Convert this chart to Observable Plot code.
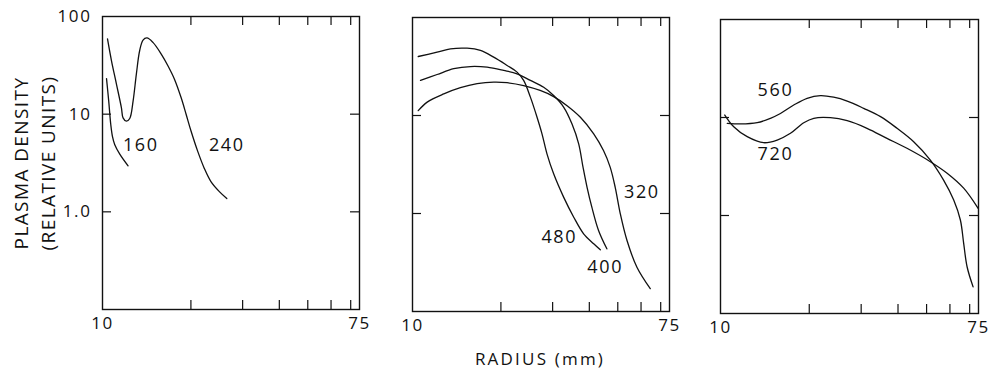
<!DOCTYPE html>
<html>
<head>
<meta charset="utf-8">
<script src="https://cdn.jsdelivr.net/npm/d3@7"></script>
<script src="https://cdn.jsdelivr.net/npm/@observablehq/plot@0.6"></script>
<style>
  html, body { margin: 0; padding: 0; background: #fff; }
  #wrap { position: relative; width: 993px; height: 372px; overflow: hidden; background: #fff;
          font-family: 'Open Sans', 'Liberation Sans', sans-serif; color: #111; }
  #wrap svg { position: absolute; top: 0; }
  #wrap svg text { letter-spacing: 1.6px; }
  .ytitle { position: absolute; white-space: nowrap; font-size: 19px; font-weight: 400; letter-spacing: 1.4px;
            transform: translate(-50%, -50%) rotate(-90deg); line-height: 19px; }
  .xtitle { position: absolute; white-space: nowrap; font-size: 17px; font-weight: 400; letter-spacing: 2.2px;
            transform: translate(-50%, 0); line-height: 17px; }
</style>
</head>
<body>
<div id="wrap"></div>
<script>
// ---- data (radius in mm, plasma density in relative units) ----
const r160 = [10.32, 10.50, 10.67, 10.81, 11.01, 11.45, 12.22];
const d160 = [23.1, 13.6, 7.83, 5.93, 4.87, 3.9, 2.96];

const r240 = [10.40, 10.73, 11.16, 11.6, 11.75, 12.06, 12.38, 12.71, 13.04, 13.38, 13.74, 14.17, 14.85, 15.85, 16.7, 17.58, 18.53, 19.27, 20.03, 21.1, 22.2, 23.4, 25.0, 26.5];
const d240 = [58.9, 35.2, 20.2, 11.6, 9.16, 8.47, 9.03, 13.6, 25.7, 44.6, 57.4, 60.3, 54.3, 41.2, 31.3, 22.8, 14.7, 9.93, 6.68, 4.16, 2.8, 2.04, 1.61, 1.37];

const r480 = [10.46, 12.13, 13.47, 15.35, 17.03, 18.9, 20.99, 22.7, 23.9, 25.2, 26.55, 27.6, 28.7, 30.24, 32.7, 35.4, 38.25, 41.4, 43.6];
const d480 = [40.0, 44.3, 47.9, 48.6, 46.1, 39.4, 32.4, 27.7, 22.8, 15.4, 9.6, 6.5, 4.06, 2.54, 1.47, 0.917, 0.621, 0.491, 0.426];

const r400 = [10.65, 12.13, 13.82, 15.75, 17.95, 20.44, 22.7, 25.2, 27.97, 30.24, 32.7, 34.9, 36.8, 38.07, 39.3, 40.8, 43.0, 45.9];
const d400 = [22.8, 26.2, 30.0, 31.6, 31.1, 28.8, 26.6, 22.8, 19.4, 16.0, 12.2, 8.23, 5.14, 2.97, 1.85, 1.16, 0.671, 0.436];

const r320 = [10.46, 11.22, 12.78, 14.56, 16.6, 18.9, 20.99, 23.9, 27.2, 30.24, 33.6, 37.3, 41.4, 44.7, 47.1, 49.0, 51.0, 53.75, 58.1, 64.5];
const d320 = [11.2, 13.7, 16.6, 19.2, 21.1, 21.9, 21.6, 20.2, 18.0, 15.6, 12.6, 9.6, 6.5, 4.39, 2.97, 1.85, 0.993, 0.53, 0.283, 0.171];

const r560 = [10.54, 11.69, 13.32, 14.77, 15.97, 17.72, 19.67, 21.83, 24.2, 26.9, 30.6, 34.9, 39.7, 45.2, 51.5, 57.1, 61.8, 65.1, 66.8, 68.6, 71.9];
const d560 = [8.73, 8.59, 8.85, 9.82, 11.0, 13.4, 15.7, 16.7, 16.1, 14.7, 12.4, 10.2, 7.76, 5.66, 3.68, 2.30, 1.44, 0.90, 0.52, 0.30, 0.187];

const r720 = [10.34, 11.09, 12.32, 14.02, 15.57, 17.27, 19.16, 20.72, 23.6, 26.9, 31.4, 36.7, 42.9, 51.5, 58.7, 66.8, 74.8];
const d720 = [10.6, 8.05, 6.37, 5.53, 5.89, 6.90, 8.85, 9.82, 9.95, 9.27, 7.76, 6.13, 4.85, 3.54, 2.70, 1.90, 1.18];

// curve labels: [text, radius, density]
const labels1 = [["160", 13.5, 4.79], ["240", 26.5, 4.79]];
const labels2 = [["480", 31.6, 0.569], ["400", 45.3, 0.281], ["320", 60.4, 1.65]];
const labels3 = [["560", 15.36, 18.8], ["720", 15.36, 4.24]];

// axes
const xDomain = [10, 75];
const yDomain = [0.1, 100];
const xTickLabels = [10, 75];
const xInnerTicks = [20, 30, 40, 50, 60, 70];
const yTickLabels = [100, 10, 1];
const yTickText = ["100", "10", "1.0"];
const yInnerTicks = [1, 10];

const yTitle = ["PLASMA DENSITY", "(RELATIVE UNITS)"];
const xTitle = "RADIUS (mm)";

// ---- build ----
function series(name, rs, ds) { return rs.map((r, i) => ({s: name, r, d: ds[i]})); }
function lbls(arr) { return arr.map(([t, r, d]) => ({t, r, d})); }

const INK = "#111";
const FONT = "'Open Sans', 'Liberation Sans', sans-serif";

function panel({left, top, fw, fh, mL, mR, rows, labels, showY}) {
  const marks = [
    Plot.frame({stroke: INK, strokeWidth: 1.4}),
    Plot.tickY(yInnerTicks, {y: d => d, insetRight: fw - 9, stroke: INK, strokeWidth: 1.2}),
    Plot.tickY(yInnerTicks, {y: d => d, insetLeft: fw - 9, stroke: INK, strokeWidth: 1.2}),
    Plot.tickX(xInnerTicks, {x: d => d, insetBottom: fh - 9, stroke: INK, strokeWidth: 1.2}),
    Plot.tickX(xInnerTicks, {x: d => d, insetTop: fh - 9, stroke: INK, strokeWidth: 1.2}),
    Plot.text(xTickLabels, {x: d => d, text: d => String(d), frameAnchor: "bottom", dy: 19,
      fontSize: 17, fill: INK}),
    Plot.line(rows, {x: "r", y: "d", z: "s", curve: "catmull-rom", stroke: INK, strokeWidth: 1.3}),
    Plot.text(labels, {x: "r", y: "d", text: "t", fontSize: 18, fill: INK})
  ];
  if (showY) {
    marks.push(Plot.axisY(yTickLabels, {tickSize: 0, tickPadding: 11,
      tickFormat: d => yTickText[yTickLabels.indexOf(d)], fontSize: 17, fill: INK, label: null}));
  }
  const svg = Plot.plot({
    width: mL + fw + mR,
    height: 372,
    marginLeft: mL, marginRight: mR, marginTop: top, marginBottom: 372 - top - fh,
    x: {type: "log", domain: xDomain, label: null, axis: null},
    y: {type: "log", domain: yDomain, label: null, axis: showY ? undefined : null},
    style: {fontFamily: FONT, fontWeight: 400, color: INK, background: "transparent", overflow: "visible"},
    marks
  });
  svg.style.left = left + "px";
  return svg;
}

const wrap = document.getElementById("wrap");
wrap.appendChild(panel({left: 0, top: 16, fw: 257, fh: 293, mL: 102, mR: 20,
  rows: [...series("160", r160, d160), ...series("240", r240, d240)], labels: lbls(labels1), showY: true}));
wrap.appendChild(panel({left: 392, top: 17, fw: 257, fh: 294, mL: 20, mR: 20,
  rows: [...series("480", r480, d480), ...series("400", r400, d400), ...series("320", r320, d320)], labels: lbls(labels2), showY: false}));
wrap.appendChild(panel({left: 700, top: 19, fw: 258, fh: 294, mL: 20, mR: 15,
  rows: [...series("560", r560, d560), ...series("720", r720, d720)], labels: lbls(labels3), showY: false}));

yTitle.forEach((t, i) => {
  const d = document.createElement("div");
  d.className = "ytitle";
  d.textContent = t;
  d.style.left = (i === 0 ? 21 : 48) + "px";
  d.style.top = "163px";
  wrap.appendChild(d);
});
const xt = document.createElement("div");
xt.className = "xtitle";
xt.textContent = xTitle;
xt.style.left = "540px";
xt.style.top = "350px";
wrap.appendChild(xt);
</script>
</body>
</html>
